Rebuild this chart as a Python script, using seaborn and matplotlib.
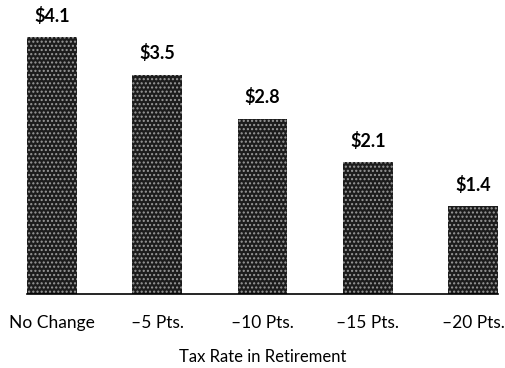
import matplotlib
matplotlib.use("Agg")
import matplotlib.pyplot as plt
import seaborn as sns
import pandas as pd

categories = ["No Change", "\u20135 Pts.", "\u201310 Pts.", "\u201315 Pts.", "\u201320 Pts."]
values = [4.1, 3.5, 2.8, 2.1, 1.4]
value_labels = ["$4.1", "$3.5", "$2.8", "$2.1", "$1.4"]
x_title = "Tax Rate in Retirement"

sns.set_style("white")
plt.rcParams['font.family'] = ['Lato', 'DejaVu Sans']

df = pd.DataFrame({"cat": categories, "val": values})

fig = plt.figure(figsize=(5.06, 3.68), dpi=100)
ax = fig.add_axes([27/506, 74/368, (498-27)/506, (294-12)/368])
sns.barplot(data=df, x="cat", y="val", color="#1c1c1c", width=0.475, ax=ax,
            saturation=1)
for p in ax.patches:
    p.set_hatch("....")
    p.set_edgecolor("#9a9a9a")
    p.set_linewidth(0)
ax.set_xlim(-0.2375, 4.2375)
ax.set_ylim(0, 4.5)
for i, (v, lab) in enumerate(zip(values, value_labels)):
    ax.text(i, v + 0.2, lab, ha="center", va="bottom", fontsize=13,
            fontweight="bold", color="black", clip_on=False)
for s in ["top", "right", "left"]:
    ax.spines[s].set_visible(False)
ax.spines["bottom"].set_color("black")
ax.spines["bottom"].set_linewidth(1.2)
ax.set_yticks([])
ax.set_ylabel("")
ax.tick_params(axis="x", length=0, pad=15, labelsize=12.5, colors="black")
ax.set_xlabel(x_title, fontsize=12, color="black", labelpad=13)
fig.savefig("out.png", dpi=100)
